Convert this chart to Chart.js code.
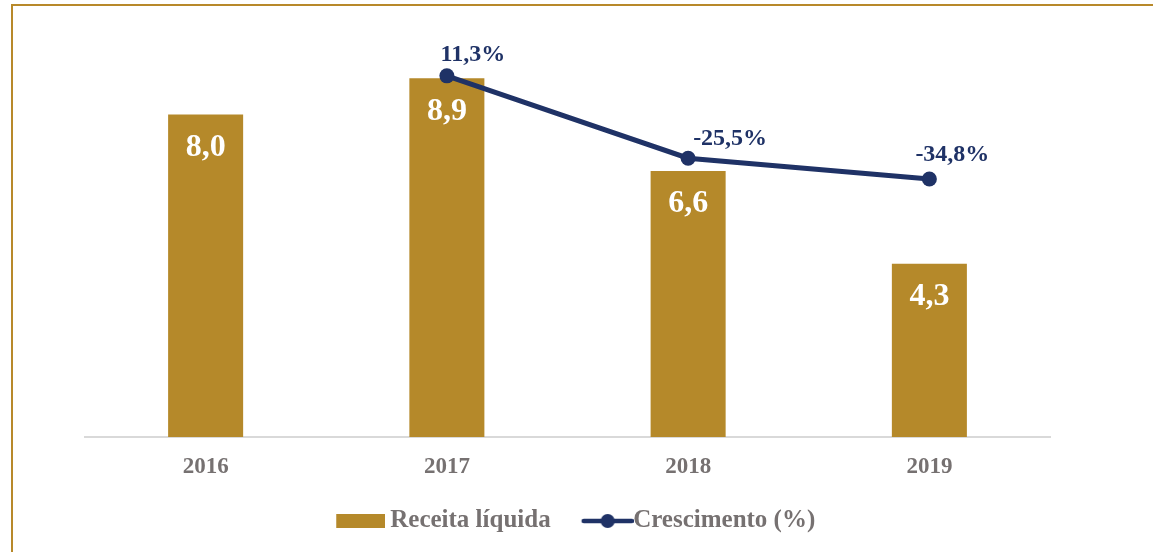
<!DOCTYPE html>
<html>
<head>
<meta charset="utf-8">
<script src="https://cdn.jsdelivr.net/npm/chart.js@4/dist/chart.umd.min.js"></script>
<style>
    html, body { margin: 0; padding: 0; background: #fff; overflow: hidden; }
    #wrap { position: relative; width: 1153px; height: 552px; }
    #frame { position: absolute; left: 11px; top: 4px; width: 1300px; height: 700px; border: 2px solid #b8892a; }
    #chart { position: absolute; left: 0; top: 0; }
</style>
</head>
<body>
<div id="wrap">
    <div id="frame"></div>
    <canvas id="chart" width="1153" height="552"></canvas>
</div>
<script>
// dados
var anos = ['2016', '2017', '2018', '2019'];
var receita = [8.0, 8.9, 6.6, 4.3];
var crescimento = [null, 11.3, -25.5, -34.8];
var nomeReceita = 'Receita líquida';
var nomeCrescimento = 'Crescimento (%)';

var gold = '#b5892a';
var navy = '#1f3266';
var cinza = '#767171';
var fonte = "'Liberation Serif', 'Times New Roman', serif";

var fmt = function (v) {
    return v.toFixed(1).replace('.', ',');
};

// imagens da legenda (margem transparente a esquerda para acertar o espacamento)
var barIcon = document.createElement('canvas');
barIcon.width = 73; barIcon.height = 14;
var c1 = barIcon.getContext('2d');
c1.fillStyle = gold;
c1.fillRect(24, 0, 49, 14);

var lineIcon = document.createElement('canvas');
lineIcon.width = 84; lineIcon.height = 16;
var c2 = lineIcon.getContext('2d');
c2.strokeStyle = navy; c2.lineWidth = 4.5; c2.lineCap = 'round';
c2.beginPath(); c2.moveTo(34, 8); c2.lineTo(82, 8); c2.stroke();
c2.fillStyle = navy;
c2.beginPath(); c2.arc(58, 8, 7, 0, Math.PI * 2); c2.fill();

// deslocamento dos rotulos da linha em relacao ao ponto
var labelDx = [0, 26, 42, 23];
var labelDy = [0, -21, -19, -24];

var valueLabels = {
    id: 'valueLabels',
    afterDatasetsDraw: function (chart) {
        var ctx = chart.ctx;
        ctx.save();
        ctx.textAlign = 'center';
        ctx.textBaseline = 'middle';
        ctx.fillStyle = '#fff';
        ctx.font = 'bold 32px ' + fonte;
        chart.getDatasetMeta(0).data.forEach(function (bar, i) {
            ctx.fillText(fmt(receita[i]), bar.x, bar.y + 33);
        });
        ctx.fillStyle = navy;
        ctx.font = 'bold 24px ' + fonte;
        chart.getDatasetMeta(1).data.forEach(function (pt, i) {
            if (crescimento[i] === null) return;
            ctx.fillText(fmt(crescimento[i]) + '%', pt.x + labelDx[i], pt.y + labelDy[i]);
        });
        ctx.restore();
    }
};

var config = {
    type: 'bar',
    data: {
        labels: anos,
        datasets: [{
            type: 'bar',
            label: nomeReceita,
            data: receita,
            backgroundColor: gold,
            yAxisID: 'y',
            order: 2,
            categoryPercentage: 1,
            barPercentage: 0.311
        }, {
            type: 'line',
            label: nomeCrescimento,
            data: crescimento,
            borderColor: navy,
            backgroundColor: navy,
            borderWidth: 5,
            pointRadius: 7.5,
            pointBackgroundColor: navy,
            pointBorderWidth: 0,
            yAxisID: 'y1',
            order: 1
        }]
    },
    options: {
        responsive: false,
        animation: false,
        layout: {padding: {left: 85, right: 103, top: 34, bottom: 8.5}},
        plugins: {
            tooltip: {enabled: false},
            legend: {
                display: true,
                position: 'bottom',
                labels: {
                    usePointStyle: true,
                    pointStyleWidth: 58,
                    padding: 12,
                    color: cinza,
                    font: {family: fonte, size: 25, weight: 'bold'},
                    generateLabels: function () {
                        return [
                            {text: nomeReceita, pointStyle: barIcon, datasetIndex: 0, lineWidth: 0, fontColor: cinza},
                            {text: nomeCrescimento, pointStyle: lineIcon, datasetIndex: 1, lineWidth: 0, fontColor: cinza}
                        ];
                    }
                }
            }
        },
        scales: {
            x: {
                grid: {display: false, drawTicks: false},
                border: {display: true, color: '#d9d9d9', width: 2},
                ticks: {color: cinza, padding: 16, font: {family: fonte, size: 23, weight: 'bold'}}
            },
            y: {display: false, min: 0, max: 10},
            y1: {display: false, min: -150, max: 30}
        }
    },
    plugins: [valueLabels]
};

var ctx = document.getElementById('chart').getContext('2d');
var myChart = new Chart(ctx, config);
</script>
</body>
</html>
